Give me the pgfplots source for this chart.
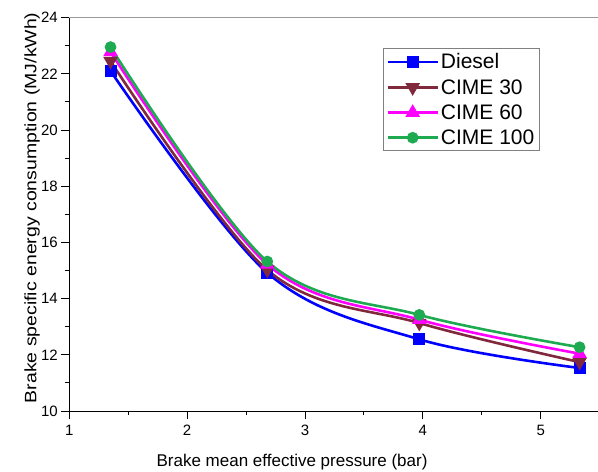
\documentclass[border=0pt]{standalone}
\usepackage{fontspec}
\setmainfont{Liberation Sans}
\newfontfamily\ylabfont[FakeStretch=1.18]{Liberation Sans}
\usepackage{pgfplots}
\pgfplotsset{compat=1.18}
\definecolor{cdiesel}{RGB}{0,0,255}
\definecolor{cthirty}{RGB}{128,40,60}
\definecolor{csixty}{RGB}{255,0,255}
\definecolor{chundred}{RGB}{30,170,80}
\begin{document}
\begin{tikzpicture}
\begin{axis}[
  x=117.85bp, y=28.1bp,
  xmin=1, xmax=5.5, ymin=10, ymax=24,
  axis x line*=bottom, axis y line*=left,
  axis line style={line width=1pt, -},
  xtick={1,2,3,4,5}, ytick={10,12,14,16,18,20,22,24},
  minor x tick num=1, minor y tick num=1,
  tick align=outside,
  major tick length=8bp, minor tick length=4bp,
  every tick/.style={black, line width=0.9pt},
  /pgf/number format/assume math mode=true,
  tick label style={font=\fontsize{15bp}{17bp}\selectfont},
  xticklabel style={yshift=-3bp},
  xlabel={Brake mean effective pressure (bar)},
  ylabel={\ylabfont Brake specific energy consumption (MJ/kWh)},
  xlabel style={font=\fontsize{17bp}{19bp}\selectfont, at={(axis description cs:0.42,-0.129)}, anchor=center},
  ylabel style={font=\fontsize{16.5bp}{19bp}\selectfont, at={(axis description cs:-0.070,0.5165)}, anchor=center},
  legend style={at={(axis description cs:0.5915,0.922)}, anchor=north west, draw=gray, line width=0.8pt,
    font=\fontsize{21bp}{24bp}\selectfont, inner xsep=3bp, inner ysep=3bp, row sep=5bp},
  legend cell align=left,
  legend image code/.code={\draw[#1, mark repeat=2, mark phase=2] plot coordinates {(0bp,0bp) (25bp,0bp) (50bp,0bp)};},
  every axis plot/.append style={line width=2.6bp, smooth, tension=0.55},
]
\addplot[color=cdiesel, mark=square*, mark size=4.7bp, mark options={solid}] coordinates {(1.35,22.10) (2.68,14.92) (3.97,12.55) (5.33,11.53)};
\addlegendentry{Diesel}
\addplot[color=cthirty, mark=triangle*, mark size=5.8bp, mark options={solid, rotate=180}] coordinates {(1.35,22.45) (2.68,15.02) (3.97,13.13) (5.33,11.74)};
\addlegendentry{CIME 30}
\addplot[color=csixty, mark=triangle*, mark size=5.8bp, mark options={solid}] coordinates {(1.35,22.78) (2.68,15.22) (3.97,13.25) (5.33,12.04)};
\addlegendentry{CIME 60}
\addplot[color=chundred, mark=*, mark size=4.5bp, mark options={solid}] coordinates {(1.35,22.95) (2.68,15.32) (3.97,13.42) (5.33,12.27)};
\addlegendentry{CIME 100}
\draw[gray!80, line width=1pt] (rel axis cs:0,1) -- (rel axis cs:1,1);
\end{axis}
\pgfresetboundingbox
\path (current axis.south west) ++(-69.3bp,-61bp) rectangle ++(598bp,472bp);
\end{tikzpicture}
\end{document}
